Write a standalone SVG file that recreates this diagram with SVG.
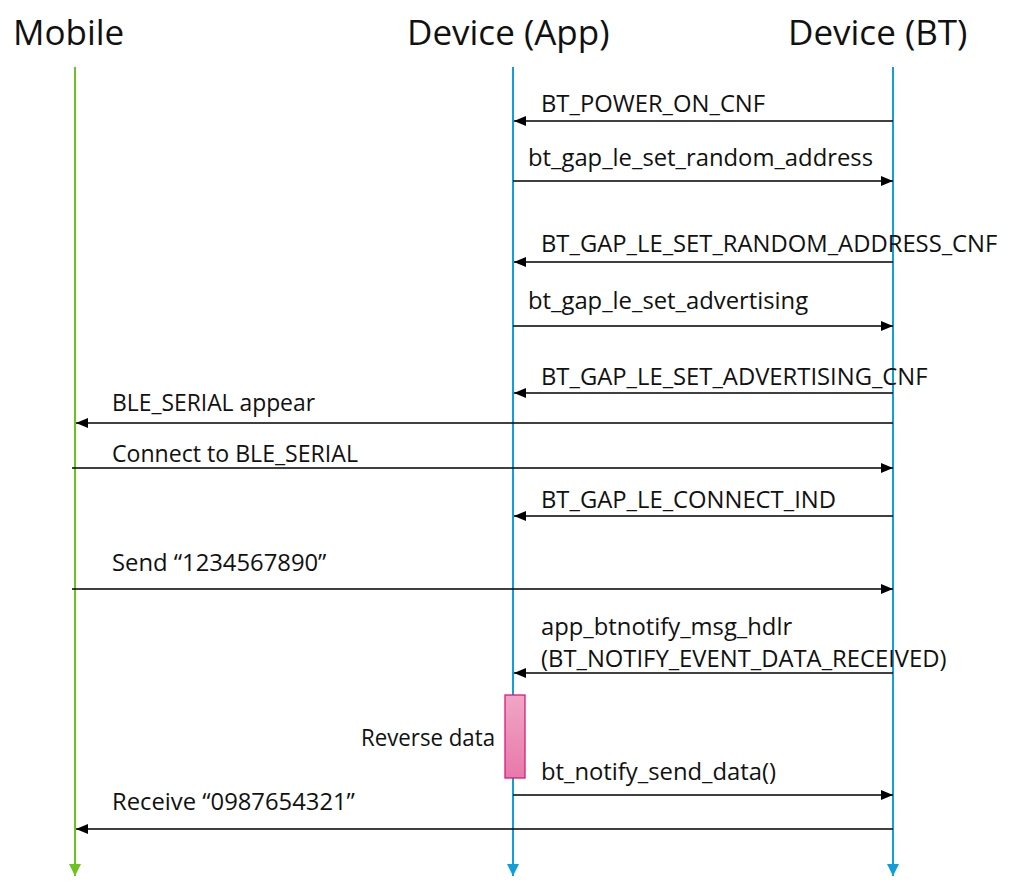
<svg xmlns="http://www.w3.org/2000/svg" width="1022" height="892" viewBox="0 0 1022 892">
<style>
.hdr{font-family:"Open Sans","Noto Sans",sans-serif;font-size:35px;fill:#111}
.lbl{font-family:"Open Sans","Noto Sans",sans-serif;font-size:23.8px;fill:#111}
.msg{stroke:#000;stroke-width:1.3;fill:none;marker-end:url(#ah)}
.life{stroke-width:2;fill:none}
</style>
<defs>
<marker id="ah" viewBox="0 0 12 10" refX="12" refY="5" markerWidth="12" markerHeight="10" markerUnits="userSpaceOnUse" orient="auto"><path d="M0,0 L12,5 L0,10 Z" fill="#000"/></marker>
<marker id="ag" viewBox="0 0 12 12" refX="12" refY="6" markerWidth="12" markerHeight="12" markerUnits="userSpaceOnUse" orient="auto"><path d="M0,0 L12,6 L0,12 Z" fill="#6cc21e"/></marker>
<marker id="ab" viewBox="0 0 12 12" refX="12" refY="6" markerWidth="12" markerHeight="12" markerUnits="userSpaceOnUse" orient="auto"><path d="M0,0 L12,6 L0,12 Z" fill="#0fa0dc"/></marker>
<linearGradient id="pg" x1="0" y1="0" x2="0" y2="1"><stop offset="0" stop-color="#f0a6c6"/><stop offset="1" stop-color="#e878aa"/></linearGradient>
</defs>
<g id="mobile"><text class="hdr" x="13" y="45">Mobile</text><line class="life" x1="75" y1="67" x2="75" y2="876" stroke="#6cc21e" marker-end="url(#ag)"/></g>
<g id="app"><text class="hdr" x="407" y="45">Device (App)</text><line class="life" x1="513" y1="67" x2="513" y2="876" stroke="#0fa0dc" marker-end="url(#ab)"/></g>
<g id="bt"><text class="hdr" x="788" y="45">Device (BT)</text><line class="life" x1="893" y1="67" x2="893" y2="876" stroke="#0fa0dc" marker-end="url(#ab)"/></g>
<g id="activation"><rect x="505" y="695" width="20" height="83" fill="url(#pg)" stroke="#d81b7a" stroke-width="1.3"/><text class="lbl" x="361" y="746" textLength="134" lengthAdjust="spacingAndGlyphs">Reverse data</text></g>
<g id="connectors">
<line class="msg" x1="893" y1="121" x2="514" y2="121"/>
<line class="msg" x1="513" y1="181" x2="893" y2="181"/>
<line class="msg" x1="893" y1="262" x2="514" y2="262"/>
<line class="msg" x1="513" y1="326" x2="893" y2="326"/>
<line class="msg" x1="893" y1="393" x2="514" y2="393"/>
<line class="msg" x1="893" y1="423" x2="76" y2="423"/>
<line class="msg" x1="72" y1="468" x2="893" y2="468"/>
<line class="msg" x1="893" y1="516" x2="514" y2="516"/>
<line class="msg" x1="72" y1="589" x2="893" y2="589"/>
<line class="msg" x1="893" y1="673" x2="514" y2="673"/>
<line class="msg" x1="513" y1="795" x2="893" y2="795"/>
<line class="msg" x1="893" y1="829" x2="76" y2="829"/>
</g>
<g id="labels">
<text class="lbl" x="541" y="112">BT_POWER_ON_CNF</text>
<text class="lbl" x="528" y="166">bt_gap_le_set_random_address</text>
<text class="lbl" x="541" y="252">BT_GAP_LE_SET_RANDOM_ADDRESS_CNF</text>
<text class="lbl" x="528" y="309">bt_gap_le_set_advertising</text>
<text class="lbl" x="541" y="385">BT_GAP_LE_SET_ADVERTISING_CNF</text>
<text class="lbl" x="112" y="411" textLength="203" lengthAdjust="spacingAndGlyphs">BLE_SERIAL appear</text>
<text class="lbl" x="112" y="462" textLength="246" lengthAdjust="spacingAndGlyphs">Connect to BLE_SERIAL</text>
<text class="lbl" x="541" y="508">BT_GAP_LE_CONNECT_IND</text>
<text class="lbl" x="112" y="571">Send “1234567890”</text>
<text class="lbl" x="541" y="635">app_btnotify_msg_hdlr</text>
<text class="lbl" x="541" y="667">(BT_NOTIFY_EVENT_DATA_RECEIVED)</text>
<text class="lbl" x="541" y="780">bt_notify_send_data()</text>
<text class="lbl" x="112" y="810">Receive “0987654321”</text>
</g>
</svg>
